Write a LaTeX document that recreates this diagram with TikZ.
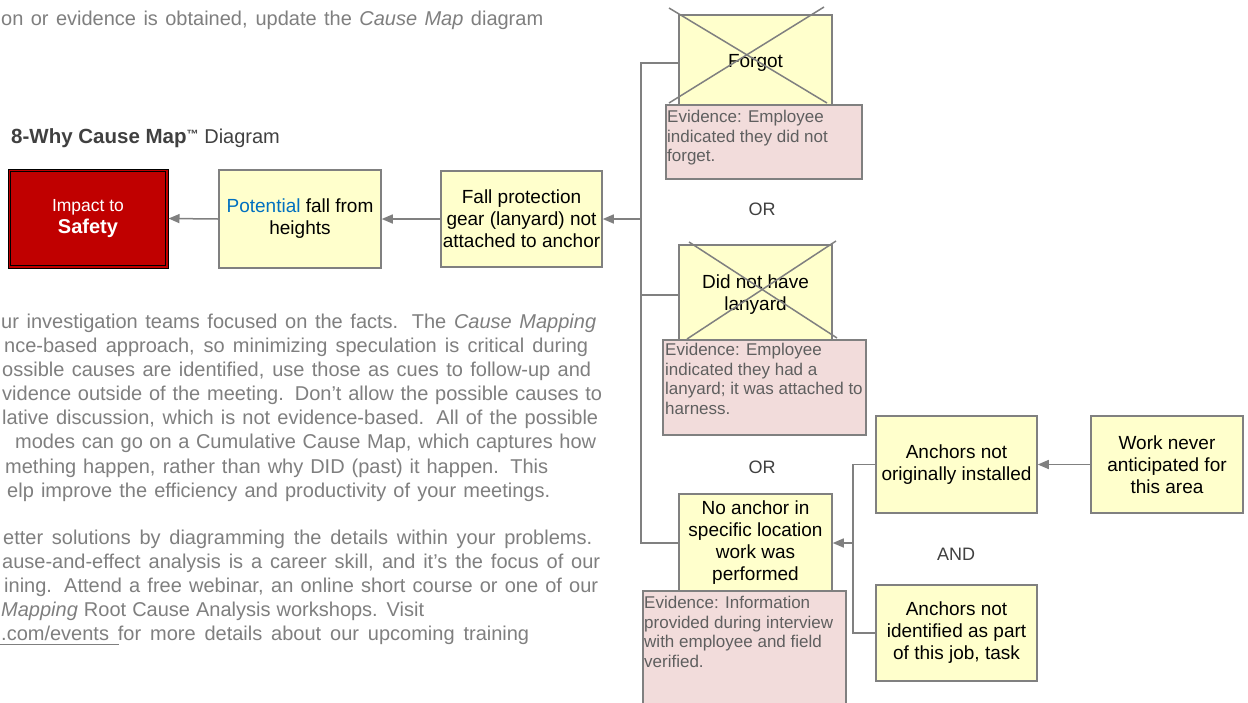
\documentclass[tikz,border=0pt]{standalone}
\usepackage{fontspec}
\setmainfont{Liberation Sans}
\usetikzlibrary{arrows.meta,calc}
\definecolor{yfill}{HTML}{FFFFCC}
\definecolor{efill}{HTML}{F2DCDB}
\definecolor{lgray}{HTML}{808080}
\definecolor{evtext}{HTML}{5F5F5F}
\definecolor{partext}{HTML}{7F7F7F}
\definecolor{cred}{HTML}{C00000}
\definecolor{dtext}{HTML}{404040}
\definecolor{cblue}{HTML}{0070C0}
\newcommand{\bxf}{\fontsize{19}{22}\selectfont}
\newcommand{\evf}{\fontsize{17}{19.5}\selectfont}
\newcommand{\prf}{\fontsize{20}{24}\selectfont}
\begin{document}
\begin{tikzpicture}[x=1pt,y=-1pt,
  ybox/.style={draw=lgray, fill=yfill, line width=1.5pt, inner sep=0pt, align=center, font=\bxf, text=black},
  ebox/.style={draw=lgray, fill=efill, line width=1.5pt, inner sep=0pt, anchor=north west},
  evtxt/.style={inner sep=0pt, anchor=north west, align=left, font=\evf, text=evtext},
  para/.style={inner sep=0pt, anchor=base west, font=\prf, text=partext},
  conn/.style={draw=lgray, line width=1.5pt},
  arr/.style={conn, -{Triangle[length=11pt,width=9pt]}},
  xline/.style={draw=lgray, line width=1.5pt},
  gate/.style={inner sep=0pt, font=\fontsize{18}{20}\selectfont, text=dtext}
]
\useasboundingbox (0,0) rectangle (1248,702);
\clip (0,0) rectangle (1248,702);
\fill[white] (0,0) rectangle (1248,702);

% header text
\node[para] (top) at (1,25) {\makebox[542pt][s]{on or evidence is obtained, update the \textit{Cause Map} diagram}};
\node[inner sep=0pt, anchor=base west, text=dtext] (title) at (11,143)
  {\fontsize{20.5}{24}\selectfont\textbf{8-Why Cause Map}\raisebox{5pt}{\fontsize{12}{12}\selectfont\textbf{™}} \fontsize{20}{24}\selectfont Diagram};

% main chain
\node[draw=black, fill=cred, line width=1pt, minimum width=160pt, minimum height=99pt, inner sep=0pt, align=center, text=white] (impact) at (88,218.5)
  {{\fontsize{17.5}{21}\selectfont Impact to}\\[3pt]{\fontsize{20}{22}\selectfont\bfseries Safety}};
\draw[black, line width=1pt] ($(impact.north west)+(3,3)$) rectangle ($(impact.south east)+(-3,-3)$);
\node[ybox, minimum width=162pt, minimum height=98pt] (potential) at (300,219)
  {\textcolor{cblue}{Potential} fall from\\heights};
\node[ybox, minimum width=161pt, minimum height=96pt] (fall) at (521.5,219)
  {Fall protection\\gear (lanyard) not\\attached to anchor};

% possible causes
\node[ybox, minimum width=153pt, minimum height=96pt] (forgot) at (755.5,63) {Forgot};
\node[ybox, minimum width=153pt, minimum height=100pt] (lanyard) at (755.5,295) {Did not have\\lanyard};
\node[ybox, minimum width=153pt, minimum height=98pt] (noanchor) at (755.5,543) {No anchor in\\specific location\\work was\\performed};

% crosses
\draw[xline] (669,8) -- (827,103);
\draw[xline] (824,7) -- (669,103);
\draw[xline] (689,242) -- (837,338);
\draw[xline] (836,241) -- (687,339);

% evidence boxes
\node[ebox, minimum width=196pt, minimum height=74pt] (e1) at (665,104) {};
\node[evtxt] (e1t) at (667,110) {Evidence: Employee\\indicated they did not\\forget.};
\node[ebox, minimum width=203pt, minimum height=95pt] (e2) at (662,339) {};
\node[evtxt] (e2t) at (665,343) {Evidence: Employee\\indicated they had a\\lanyard; it was attached to\\harness.};
\node[ebox, minimum width=203pt, minimum height=115pt] (e3) at (642,590) {};
\node[evtxt] (e3t) at (644,596) {Evidence: Information\\provided during interview\\with employee and field\\verified.};

% gates
\node[gate] (or1) at (762,209) {OR};
\node[gate] (or2) at (762,467) {OR};
\node[gate] (and1) at (956,554) {AND};

% deeper causes
\node[ybox, minimum width=161pt, minimum height=97pt] (ani) at (956.5,464.5) {Anchors not\\originally installed};
\node[ybox, minimum width=152pt, minimum height=97pt] (work) at (1167,464.5) {Work never\\anticipated for\\this area};
\node[ybox, minimum width=161pt, minimum height=96pt] (anid) at (956.5,633) {Anchors not\\identified as part\\of this job, task};

% connectors
\coordinate (j1) at (641,219);
\coordinate (j2) at (853,543);
\draw[conn] (forgot.west) -| (j1);
\draw[conn] (lanyard.west) -| (j1);
\draw[conn] (noanchor.west) -| (j1);
\draw[arr] (j1) -- (fall.east);
\draw[arr] (fall.west) -- (potential.east);
\draw[arr] (potential.west) -- (impact.east);
\draw[conn] (ani.west) -| (j2);
\draw[conn] (anid.west) -| (j2);
\draw[arr] (j2) -- (noanchor.east);
\draw[arr] (work.west) -- (ani.east);

% paragraph 1
\node[para] (p11) at (1,328) {\makebox[595pt][s]{ur investigation teams focused on the facts. The \textit{Cause Mapping}}};
\node[para] (p12) at (4,352) {\makebox[584pt][s]{nce-based approach, so minimizing speculation is critical during}};
\node[para] (p13) at (2,376) {\makebox[589pt][s]{ossible causes are identified, use those as cues to follow-up and}};
\node[para] (p14) at (2,400) {\makebox[600pt][s]{vidence outside of the meeting. Don't allow the possible causes to}};
\node[para] (p15) at (2,424) {\makebox[596pt][s]{lative discussion, which is not evidence-based. All of the possible}};
\node[para] (p16) at (15,448) {\makebox[581pt][s]{modes can go on a Cumulative Cause Map, which captures how}};
\node[para] (p17) at (5,473) {\makebox[543pt][s]{mething happen, rather than why DID (past) it happen. This}};
\node[para] (p18) at (7,497) {\makebox[543pt][s]{elp improve the efficiency and productivity of your meetings.}};

% paragraph 2
\node[para] (p21) at (3,544) {\makebox[589pt][s]{etter solutions by diagramming the details within your problems.}};
\node[para] (p22) at (2,568) {\makebox[598pt][s]{ause-and-effect analysis is a career skill, and it's the focus of our}};
\node[para] (p23) at (4,592) {\makebox[594pt][s]{ining. Attend a free webinar, an online short course or one of our}};
\node[para] (p24) at (1,616) {\makebox[423pt][s]{\textit{Mapping} Root Cause Analysis workshops. Visit}};
\node[para] (p25) at (1,640) {\makebox[528pt][s]{.com/events for more details about our upcoming training}};
\draw[partext, line width=1pt] (0,644) -- (119,644);
\end{tikzpicture}
\end{document}
